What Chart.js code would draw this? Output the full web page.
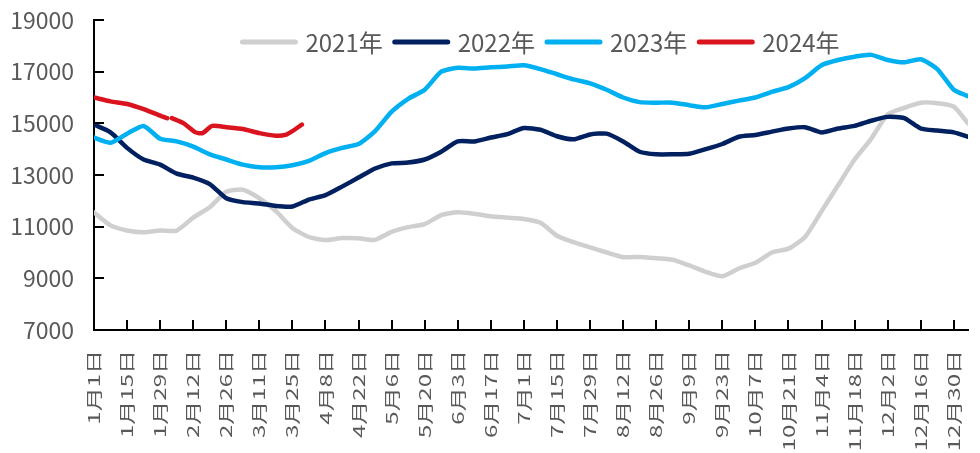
<!DOCTYPE html>
<html>
<head>
<meta charset="utf-8">
<script src="https://cdn.jsdelivr.net/npm/chart.js@4.4.1/dist/chart.umd.min.js"></script>
<style>
  html, body { margin: 0; padding: 0; background: #fff; }
  #wrap { width: 980px; height: 453px; }
</style>
</head>
<body>
<div id="wrap"><canvas id="chart_dest"></canvas></div>
<script>
// data (day of year)
var days = [0, 7, 14, 21, 28, 35, 42, 49, 56, 63, 70, 77, 84, 91, 98, 105, 112, 119, 126, 133,
  140, 147, 154, 161, 168, 175, 182, 189, 196, 203, 210, 217, 224, 231, 238, 245, 252, 259, 266, 273,
  280, 287, 294, 301, 308, 315, 322, 329, 336, 343, 350, 357, 364, 370];

var v2021 = [11550, 11050, 10850, 10780, 10850, 10850, 11350, 11750, 12350, 12430,
  12100, 11600, 10950, 10600, 10480, 10560, 10550, 10490, 10800, 10980,
  11100, 11450, 11560, 11500, 11400, 11350, 11300, 11150, 10650, 10400,
  10200, 10000, 9820, 9830, 9780, 9720, 9500, 9250, 9080, 9380,
  9600, 10000, 10150, 10600, 11600, 12600, 13600, 14400, 15350, 15600,
  15800, 15780, 15650, 15000];

var v2022 = [14950, 14650, 14050, 13600, 13400, 13050, 12900, 12650, 12100, 11950,
  11900, 11800, 11780, 12050, 12220, 12550, 12900, 13250, 13450, 13480,
  13600, 13900, 14300, 14300, 14450, 14580, 14820, 14750, 14500, 14380,
  14570, 14600, 14300, 13900, 13800, 13800, 13820, 14000, 14200, 14480,
  14550, 14680, 14800, 14850, 14650, 14800, 14900, 15100, 15250, 15200,
  14800, 14720, 14650, 14480];

var v2023 = [14450, 14250, 14600, 14900, 14400, 14300, 14100, 13800, 13600, 13400,
  13300, 13300, 13380, 13550, 13850, 14050, 14200, 14700, 15450, 15950,
  16300, 17000, 17150, 17120, 17170, 17200, 17250, 17100, 16900, 16700,
  16550, 16300, 16000, 15820, 15800, 15800, 15700, 15620, 15750, 15880,
  16000, 16220, 16400, 16750, 17250, 17450, 17580, 17650, 17450, 17360,
  17480, 17100, 16300, 16050];

var days2024 = [0, 7, 14, 21, 28, 31, 32, 33, 38, 43, 46, 50, 56, 63, 70, 77, 81, 84, 88];
var v2024 = [16000, 15850, 15750, 15550, 15300, 15200, null, 15200, 15000, 14650,
  14620, 14900, 14850, 14780, 14620, 14520, 14550, 14700, 14950];

var seriesNames = ['2021年', '2022年', '2023年', '2024年'];
var seriesColors = ['#D0CECE', '#002060', '#00B0F0', '#D9141E'];

var tickLabels = ['1月1日', '1月15日', '1月29日', '2月12日', '2月26日', '3月11日', '3月25日',
  '4月8日', '4月22日', '5月6日', '5月20日', '6月3日', '6月17日', '7月1日', '7月15日',
  '7月29日', '8月12日', '8月26日', '9月9日', '9月23日', '10月7日', '10月21日', '11月4日',
  '11月18日', '12月2日', '12月16日', '12月30日'];
var tickDays = [0, 14, 28, 42, 56, 70, 84, 98, 112, 126, 140, 154, 168, 182, 196, 210,
  224, 238, 252, 266, 280, 294, 308, 322, 336, 350, 364];

var yTicks = [7000, 9000, 11000, 13000, 15000, 17000, 19000];

var FONT = '"Noto Sans CJK SC", "Noto Sans", sans-serif';
var GREY = '#595959';

function pts(xs, ys) {
  return xs.map(function (d, i) { return { x: d, y: ys[i] }; });
}

var allValues = [v2021, v2022, v2023, v2024];
var allDays = [days, days, days, days2024];

var datasets = seriesNames.map(function (name, i) {
  return {
    label: name,
    data: pts(allDays[i], allValues[i]),
    borderColor: seriesColors[i],
    backgroundColor: seriesColors[i],
    borderWidth: 4.5,
    borderCapStyle: 'round',
    borderJoinStyle: 'round',
    pointRadius: 0,
    tension: 0.2,
    spanGaps: false,
    order: 3 - i
  };
});

// legend sits inside the plot, drawn by hand; tick marks point inwards
var overlayPlugin = {
  id: 'overlay',
  afterDatasetsDraw: function (chart) {
    var ctx = chart.ctx;
    var xs = chart.scales.x, ys = chart.scales.y;

    ctx.save();
    ctx.strokeStyle = '#000000';
    ctx.lineWidth = 2;
    ctx.beginPath();
    tickDays.forEach(function (d) {
      var px = Math.round(xs.getPixelForValue(d));
      ctx.moveTo(px, ys.bottom);
      ctx.lineTo(px, ys.bottom - 10);
    });
    yTicks.forEach(function (v) {
      var py = Math.round(ys.getPixelForValue(v));
      ctx.moveTo(xs.left, py);
      ctx.lineTo(xs.left + 10, py);
    });
    ctx.stroke();
    ctx.restore();

    var lineLen = 57, gap = 8, itemGap = 10, cy = 42;
    ctx.save();
    ctx.font = '24px ' + FONT;
    var widths = seriesNames.map(function (n) { return ctx.measureText(n).width; });
    var total = 0;
    widths.forEach(function (w) { total += lineLen + gap + w; });
    total += itemGap * (seriesNames.length - 1);
    var x = 540 - total / 2;
    ctx.textBaseline = 'middle';
    ctx.textAlign = 'left';
    seriesNames.forEach(function (n, i) {
      ctx.strokeStyle = seriesColors[i];
      ctx.lineWidth = 5;
      ctx.lineCap = 'round';
      ctx.beginPath();
      ctx.moveTo(x + 2, cy);
      ctx.lineTo(x + lineLen - 2, cy);
      ctx.stroke();
      ctx.fillStyle = GREY;
      ctx.fillText(n, x + lineLen + gap, cy + 1);
      x += lineLen + gap + widths[i] + itemGap;
    });
    ctx.restore();
  }
};

// x labels in the picture are drawn stretched along their length
var stretchPlugin = {
  id: 'xLabelStretch',
  beforeDraw: function (chart) {
    var xs = chart.scales.x;
    if (xs && !xs._stretched) {
      var draw = xs.drawLabels;
      xs.drawLabels = function (area) {
        var c = this.ctx;
        var y0 = this.top + this.options.ticks.padding;
        c.save();
        c.translate(0, y0);
        c.scale(1, 1.5);
        c.translate(0, -y0);
        draw.call(this, area);
        c.restore();
      };
      xs._stretched = true;
    }
  }
};

var ctx = document.getElementById('chart_dest');

var myChart = new Chart(ctx, {
  type: 'line',
  data: { datasets: datasets },
  plugins: [overlayPlugin, stretchPlugin],
  options: {
    responsive: true,
    maintainAspectRatio: false,
    animation: false,
    layout: { padding: { top: 20, right: 12, left: 0, bottom: 0 } },
    plugins: {
      legend: { display: false },
      tooltip: { enabled: false }
    },
    scales: {
      x: {
        type: 'linear',
        min: 0,
        max: 370,
        afterBuildTicks: function (scale) {
          scale.ticks = tickDays.map(function (d) { return { value: d }; });
        },
        afterFit: function (scale) {
          scale.height = 123;
          scale.paddingLeft = 0;
          scale.paddingRight = 0;
        },
        ticks: {
          autoSkip: false,
          minRotation: 90,
          maxRotation: 90,
          padding: 20,
          color: GREY,
          font: { family: FONT, size: 16 },
          callback: function (value) {
            var i = tickDays.indexOf(value);
            return i >= 0 ? tickLabels[i] : '';
          }
        },
        grid: { drawOnChartArea: false, drawTicks: false },
        border: { color: '#000', width: 2 }
      },
      y: {
        min: 7000,
        max: 19000,
        afterBuildTicks: function (scale) {
          scale.ticks = yTicks.map(function (v) { return { value: v }; });
        },
        afterFit: function (scale) {
          scale.width = 94;
          scale.paddingTop = 0;
          scale.paddingBottom = 0;
        },
        ticks: {
          padding: 20,
          color: GREY,
          font: { family: FONT, size: 23 },
          callback: function (value) { return String(value); }
        },
        grid: { drawOnChartArea: false, drawTicks: false },
        border: { color: '#000', width: 2 }
      }
    }
  }
});
</script>
</body>
</html>
